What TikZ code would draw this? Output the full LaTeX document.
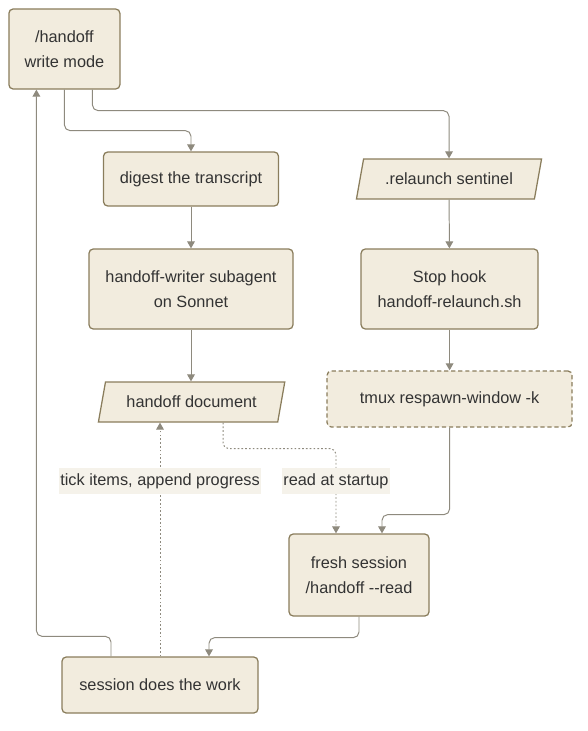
\documentclass[tikz,border=0pt]{standalone}
\usepackage{fontspec}
\setmainfont{Liberation Sans}
\usepackage{tikz}
\usetikzlibrary{arrows.meta,shapes.geometric}

\definecolor{boxfill}{HTML}{F2ECDE}
\definecolor{boxline}{HTML}{8A7D5C}
\definecolor{wire}{HTML}{8E8A7E}
\definecolor{labelfill}{HTML}{F5F2EA}
\definecolor{ink}{HTML}{333333}

\tikzset{
	box/.style={draw=boxline, fill=boxfill, line width=0.9pt, rounded corners=3pt, align=center, text=ink, font=\fontsize{11.6}{17.5}\selectfont, inner sep=0pt},
	datum/.style={trapezium, trapezium left angle=66, trapezium right angle=114, trapezium stretches=true, draw=boxline, fill=boxfill, line width=0.9pt, text=ink, font=\fontsize{11.6}{17.5}\selectfont, inner sep=0pt},
	wirearrow/.style={draw=wire, line width=0.7pt, rounded corners=4pt, -{Triangle[length=5pt,width=5.5pt]}},
	dotwire/.style={wirearrow, dash pattern=on 1.2pt off 1.5pt},
	wirelabel/.style={sharp corners, fill=labelfill, text=ink, font=\fontsize{11.6}{13}\selectfont, inner xsep=1pt, inner ysep=4pt}
}

\begin{document}
\begin{tikzpicture}[]
	%\draw[help lines, thick] (0,0) grid (15,-19);
	\useasboundingbox (0,0) rectangle (14.7,-18.275);
	\node[box, minimum width=2.775cm, minimum height=2cm] (mode) at (1.61,-1.225) {/handoff\\write mode};
	\node[box, minimum width=4.375cm, minimum height=1.35cm] (digest) at (4.775,-4.475) {digest the transcript};
	\node[box, minimum width=5.1cm, minimum height=2cm] (writer) at (4.775,-7.225) {handoff-writer subagent\\on Sonnet};
	\node[datum, minimum width=4.7cm, minimum height=1cm] (doc) at (4.79,-10.05) {handoff document};
	\node[datum, minimum width=4.65cm, minimum height=1cm] (sentinel) at (11.225,-4.475) {.relaunch sentinel};
	\node[box, minimum width=4.425cm, minimum height=2cm] (hook) at (11.24,-7.225) {Stop hook\\handoff-relaunch.sh};
	\node[box, dash pattern=on 3pt off 2pt, minimum width=6.125cm, minimum height=1.4cm] (tmux) at (11.24,-9.975) {tmux respawn-window -k};
	\node[box, minimum width=3.5cm, minimum height=2.05cm] (fresh) at (8.975,-14.375) {fresh session\\/handoff -{}-read};
	\node[box, minimum width=4.9cm, minimum height=1.4cm] (work) at (4,-17.125) {session does the work};

	\draw[wirearrow] (mode.south) -- ++(0,-1.025) -| (digest.north);
	\draw[wirearrow] ([xshift=0.7cm]mode.south) -- ++(0,-0.525) -| (sentinel.north);
	\draw[wirearrow] (digest) -- (writer);
	\draw[wirearrow] (writer) -- (doc.north -| writer.south);
	\draw[wirearrow] (sentinel) -- (hook);
	\draw[wirearrow] (hook) -- (tmux);
	\draw[wirearrow] (tmux.south) -- ++(0,-2.175) -| ([xshift=0.575cm]fresh.north);
	\draw[dotwire] ([xshift=0.785cm]doc.south) -- ++(0,-0.65) -| node[pos=0.69, wirelabel] {read at startup} ([xshift=-0.575cm]fresh.north);
	\draw[dotwire] (work.north) -- node[pos=0.75, wirelabel] {tick items, append progress} (work.north |- doc.south);
	\draw[wirearrow] (fresh.south) -- ++(0,-0.525) -| ([xshift=1.225cm]work.north);
	\draw[wirearrow] ([xshift=-1.225cm]work.north) -- ++(0,0.5) -| ([xshift=-0.7cm]mode.south);
\end{tikzpicture}
\end{document}
